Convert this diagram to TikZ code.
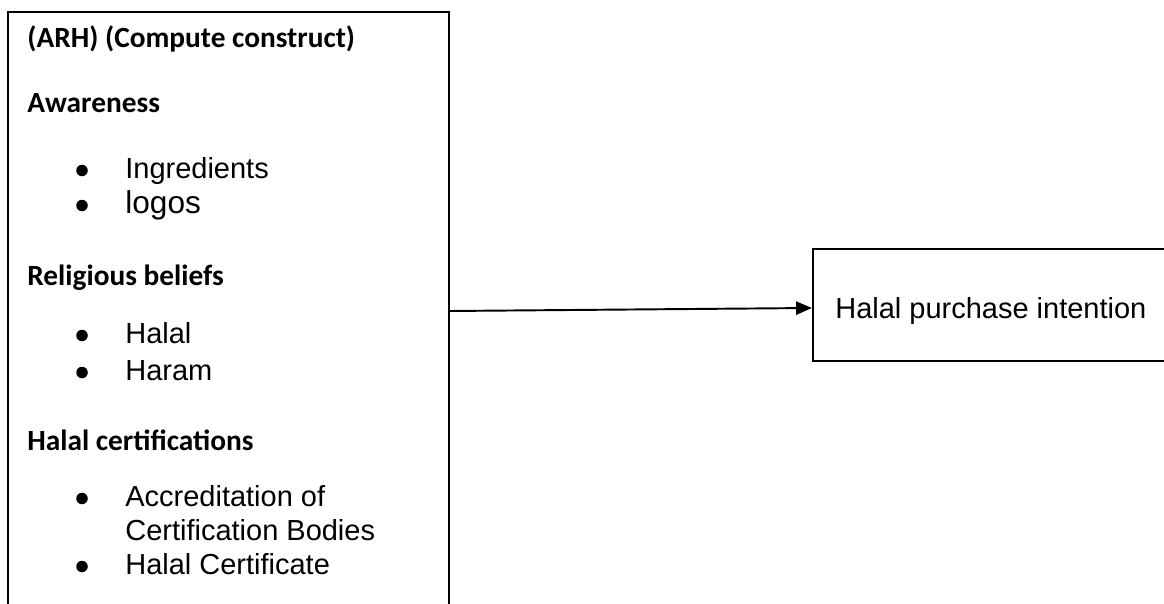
\documentclass[tikz,border=0pt]{standalone}
\usepackage{fontspec}
\setmainfont{Liberation Sans}
\newfontfamily\headfont{Carlito}
\usetikzlibrary{arrows.meta}

\tikzset{
  box/.style={draw, line width=1.3pt, rectangle, inner sep=0pt},
  head/.style={anchor=base west, inner sep=0pt, font=\headfont\bfseries\fontsize{16.7}{20}\selectfont},
  item/.style={anchor=base west, inner sep=0pt, font=\fontsize{16.5}{19}\selectfont},
  arrow/.style={line width=1.1pt, -{Triangle[length=9pt,width=7.5pt]}}
}

\begin{document}
\begin{tikzpicture}[x=0.02cm,y=-0.02cm]
\useasboundingbox (0,0) rectangle (1164,603);
\clip (0,0) rectangle (1164,603);
\node[box, minimum width=8.82cm, minimum height=12.56cm] (constructs) at (228.5,326) {};
\node[box, minimum width=7.2cm, minimum height=2.24cm] (intention) at (993,305) {};
\node[head] (title) at (27,47) {(ARH) (Compute construct)};
\node[head] (awareness) at (27,112) {Awareness};
\node[item] (ingredients) at (125,178) {Ingredients};
\node[item, font=\fontsize{18}{21}\selectfont] (logos) at (125,213) {logos};
\node[head] (beliefs) at (27,285) {Religious beliefs};
\node[item] (halal) at (125,343) {Halal};
\node[item] (haram) at (125,380) {Haram};
\node[head] (certifications) at (27,450) {Halal certifications};
\node[item] (accreditation) at (125,506) {Accreditation of};
\node[item] (bodies) at (125,540) {Certification Bodies};
\node[item] (certificate) at (125,574) {Halal Certificate};
\foreach \n in {ingredients,logos,halal,haram,accreditation,certificate}
  \fill ([xshift=-0.86cm,yshift=0.15cm]\n.base west) circle (0.115cm);
\node[item] (label) at (835,318) {Halal purchase intention};
\coordinate (start) at (449,311);
\draw[arrow] (start) -- ([yshift=-1.7pt]intention.west);
\end{tikzpicture}
\end{document}
